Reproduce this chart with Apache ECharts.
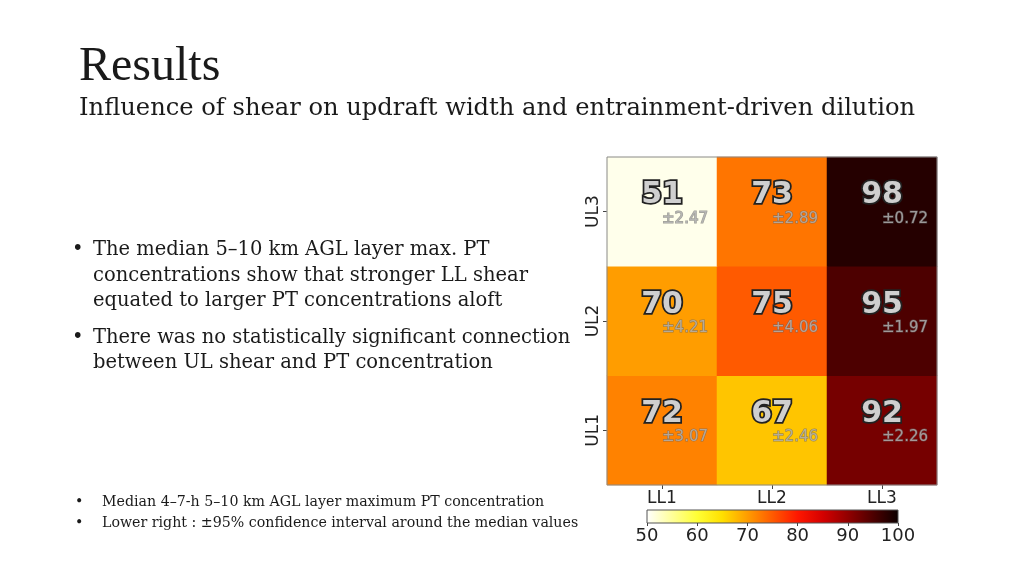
<!DOCTYPE html>
<html>
<head>
<meta charset="utf-8">
<script src="https://cdn.jsdelivr.net/npm/echarts@6/dist/echarts.min.js"></script>
<style>
html,body{margin:0;padding:0;background:#fff;}
#chart{width:1024px;height:576px;}
</style>
</head>
<body>
<div id="chart"></div>
<script>
// ---- data ----
const xCats = ['LL1', 'LL2', 'LL3'];
const yCats = ['UL1', 'UL2', 'UL3'];
const medianUL1 = [72, 67, 92];
const medianUL2 = [70, 75, 95];
const medianUL3 = [51, 73, 98];
const ciUL1 = [3.07, 2.46, 2.26];
const ciUL2 = [4.21, 4.06, 1.97];
const ciUL3 = [2.47, 2.89, 0.72];
const colorbarTicks = [50, 60, 70, 80, 90, 100];
// hot_r colormap stops (50 -> 100)
const hotR = ['#ffffff', '#ffff9b', '#ffff36', '#ffe000', '#ff9d00', '#ff5a00',
              '#ff1700', '#d40000', '#910000', '#4d0000', '#0b0000'];

const medians = [medianUL1, medianUL2, medianUL3];
const cis = [ciUL1, ciUL2, ciUL3];
const heatData = [];
const ciData = [];
for (let yi = 0; yi < yCats.length; yi++) {
  for (let xi = 0; xi < xCats.length; xi++) {
    heatData.push([xi, yi, medians[yi][xi]]);
    ciData.push([xi, yi, cis[yi][xi]]);
  }
}

const chart = echarts.init(document.getElementById('chart'));
const serif = '"DejaVu Serif", serif';
const sans = '"DejaVu Sans", sans-serif';
const textColor = '#1a1a1a';

function txt(x, y, text, size, family) {
  return {
    type: 'text', left: x, top: y,
    style: { text: text, font: size + 'px ' + family, fill: textColor }
  };
}

const option = {
  backgroundColor: '#ffffff',
  animation: false,
  graphic: [
    txt(79, 43, 'Results', 48, '"Liberation Serif", serif'),
    txt(79, 97, 'Influence of shear on updraft width and entrainment-driven dilution', 24.2, serif),
    txt(72, 240, '•', 19.5, serif),
    txt(93, 240, 'The median 5–10 km AGL layer max. PT', 19.5, serif),
    txt(93, 266, 'concentrations show that stronger LL shear', 19.5, serif),
    txt(93, 291, 'equated to larger PT concentrations aloft', 19.5, serif),
    txt(72, 328, '•', 19.5, serif),
    txt(93, 328, 'There was no statistically significant connection', 19.5, serif),
    txt(93, 353, 'between UL shear and PT concentration', 19.5, serif),
    txt(75, 495, '•', 14.2, serif),
    txt(102, 495, 'Median 4–7-h 5–10 km AGL layer maximum PT concentration', 14.2, serif),
    txt(75, 516, '•', 14.2, serif),
    txt(102, 516, 'Lower right : ±95% confidence interval around the median values', 14.2, serif)
  ],
  grid: [
    { left: 607, top: 157, width: 330, height: 328, show: true,
      borderColor: '#8a8a8a', borderWidth: 1, backgroundColor: 'transparent', z: 5 },
    { left: 647, top: 510, width: 251, height: 13, show: true,
      borderColor: '#555', borderWidth: 1,
      backgroundColor: new echarts.graphic.LinearGradient(0, 0, 1, 0,
        hotR.map((c, i) => ({ offset: i / (hotR.length - 1), color: c }))) }
  ],
  xAxis: [
    { type: 'category', data: xCats, gridIndex: 0, position: 'bottom',
      axisLine: { show: false },
      axisTick: { show: true, alignWithLabel: true, length: 4, lineStyle: { color: '#444' } },
      axisLabel: { fontSize: 17, fontFamily: sans, color: '#222', margin: 5 },
      splitLine: { show: false } },
    { type: 'value', gridIndex: 1, min: 50, max: 100, interval: 10,
      axisLine: { show: false },
      axisTick: { show: true, length: 3, lineStyle: { color: '#444' } },
      axisLabel: { fontSize: 18, fontFamily: sans, color: '#222', margin: 4,
        formatter: v => colorbarTicks.indexOf(v) >= 0 ? String(v) : '' },
      splitLine: { show: false } }
  ],
  yAxis: [
    { type: 'category', data: yCats, gridIndex: 0,
      axisLine: { show: false },
      axisTick: { show: true, alignWithLabel: true, length: 4, lineStyle: { color: '#444' } },
      axisLabel: { fontSize: 17, fontFamily: sans, color: '#222', rotate: 90, margin: 5 },
      splitLine: { show: false } },
    { type: 'value', gridIndex: 1, show: false, min: 0, max: 1 }
  ],
  visualMap: {
    show: false, type: 'continuous', min: 50, max: 100, dimension: 2,
    seriesIndex: 0, inRange: { color: hotR }
  },
  series: [
    { type: 'heatmap', xAxisIndex: 0, yAxisIndex: 0, data: heatData,
      emphasis: { disabled: true },
      label: { show: true, formatter: p => String(p.value[2]),
        fontSize: 30, fontWeight: 'bold', fontFamily: sans,
        color: '#cfcfcf', textBorderColor: '#222222', textBorderWidth: 3.5,
        offset: [0, -16] } },
    { type: 'scatter', xAxisIndex: 0, yAxisIndex: 0, data: ciData,
      symbolSize: 2, itemStyle: { color: 'rgba(0,0,0,0)' }, silent: true, z: 10,
      label: { show: true, position: 'inside', formatter: p => '±' + p.value[2].toFixed(2),
        fontSize: 15, fontFamily: sans, color: '#b4b4b4',
        textBorderColor: 'rgba(100,100,100,0.75)', textBorderWidth: 1.2,
        offset: [23, 7] } }
  ]
};
chart.setOption(option);
</script>
</body>
</html>
